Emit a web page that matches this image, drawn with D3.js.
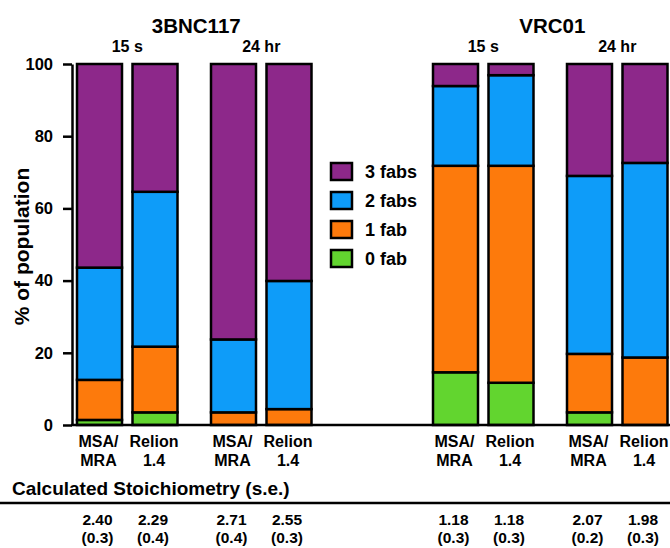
<!DOCTYPE html>
<meta charset="utf-8">
<style>
body { margin: 0; background: #fff; }
svg { font-family: "Liberation Sans", Arial, sans-serif; font-weight: bold; }
.seg { stroke: #000; stroke-width: 2.5px; }
</style>
<svg width="670" height="548"></svg>
<script src="https://cdn.jsdelivr.net/npm/d3@7"></script>
<script>

var antibodies = ["3BNC117", "VRC01"];
var times = ["15 s", "24 hr"];
var methods = ["MSA/MRA", "Relion 1.4"];
var methodLines = { "MSA/MRA": ["MSA/", "MRA"], "Relion 1.4": ["Relion", "1.4"] };

var classes = ["0 fab", "1 fab", "2 fabs", "3 fabs"];
// one value per bar: 3BNC117 15s (MSA, Relion), 3BNC117 24hr, VRC01 15s, VRC01 24hr
var fab0 = [1.4, 3.5, 0, 0, 14.6, 11.7, 3.5, 0];
var fab1 = [11.1, 18.2, 3.5, 4.4, 57.2, 60.1, 16.2, 18.7];
var fab2 = [31.1, 42.9, 20.2, 35.5, 22.1, 25.1, 49.3, 53.9];
var fab3 = [56.4, 35.4, 76.3, 60.1, 6.1, 3.1, 31.0, 27.4];

var stoich = [2.40, 2.29, 2.71, 2.55, 1.18, 1.18, 2.07, 1.98];
var stoichSE = [0.3, 0.4, 0.4, 0.3, 0.3, 0.3, 0.2, 0.3];

var colors = { "0 fab": "#62d52f", "1 fab": "#fd7a0c", "2 fabs": "#0e9cf9", "3 fabs": "#8d288a" };

var svg = d3.select("svg");

// bar list
var bars = [];
antibodies.forEach(function(ab) {
  times.forEach(function(t) {
    methods.forEach(function(m) {
      var i = bars.length;
      bars.push({ ab: ab, time: t, method: m,
        "0 fab": fab0[i], "1 fab": fab1[i], "2 fabs": fab2[i], "3 fabs": fab3[i],
        st: stoich[i], se: stoichSE[i] });
    });
  });
});

var barW = 45;
var xAb = d3.scalePoint().domain(antibodies).range([77, 433]);
var xTime = d3.scalePoint().domain(times).range([0, 134]);
var xMethod = d3.scalePoint().domain(methods).range([0, 55.5]);
function bx(d) { return xAb(d.ab) + xTime(d.time) + xMethod(d.method); }

var y = d3.scaleLinear().domain([0, 100]).range([425, 64]);

var stack = d3.stack().keys(classes);
var series = stack(bars);

svg.append("g").selectAll("g")
  .data(series)
  .enter().append("g")
    .attr("fill", function(s) { return colors[s.key]; })
  .selectAll("rect")
  .data(function(s) { return s.filter(function(p) { return p[1] - p[0] > 0; }); })
  .enter().append("rect")
    .attr("class", "seg")
    .attr("x", function(p) { return bx(p.data); })
    .attr("width", barW)
    .attr("y", function(p) { return y(p[1]); })
    .attr("height", function(p) { return y(p[0]) - y(p[1]); });

// y axis
var yAxis = svg.append("g")
  .attr("transform", "translate(72,0)")
  .call(d3.axisLeft(y).tickValues([0, 20, 40, 60, 80, 100]).tickSize(9).tickPadding(10).tickSizeOuter(0));
yAxis.select(".domain").attr("stroke", "#000").attr("stroke-width", 2.5);
yAxis.selectAll(".tick line").attr("stroke", "#000").attr("stroke-width", 2.5);
yAxis.selectAll(".tick text")
  .attr("font-family", "Liberation Sans, Arial, sans-serif")
  .attr("font-weight", "bold").attr("font-size", 16.5).attr("fill", "#000");

// baseline
svg.append("line")
  .attr("x1", 71).attr("x2", 670)
  .attr("y1", y(0)).attr("y2", y(0))
  .attr("stroke", "#000").attr("stroke-width", 2.5);

svg.append("text")
  .attr("transform", "translate(29," + (y(50) + 2) + ") rotate(-90)")
  .attr("text-anchor", "middle")
  .attr("font-size", 21)
  .text("% of population");

// group headings
antibodies.forEach(function(ab) {
  svg.append("text")
    .attr("x", xAb(ab) + (134 + 55.5 + barW) / 2 + 2)
    .attr("y", 33)
    .attr("text-anchor", "middle")
    .attr("font-size", 20.5)
    .text(ab);
  times.forEach(function(t) {
    svg.append("text")
      .attr("x", xAb(ab) + xTime(t) + (55.5 + barW) / 2)
      .attr("y", 52)
      .attr("text-anchor", "middle")
      .attr("font-size", 16)
      .text(t);
  });
});

// x labels
var xl = svg.append("g").selectAll("text")
  .data(bars)
  .enter().append("text")
    .attr("text-anchor", "middle")
    .attr("font-size", 16);
xl.append("tspan")
  .attr("x", function(d) { return bx(d) + barW / 2 - 1; })
  .attr("y", 447)
  .text(function(d) { return methodLines[d.method][0]; });
xl.append("tspan")
  .attr("x", function(d) { return bx(d) + barW / 2 - 1; })
  .attr("y", 466)
  .text(function(d) { return methodLines[d.method][1]; });

// legend
var legendOrder = ["3 fabs", "2 fabs", "1 fab", "0 fab"];
var lg = svg.append("g").selectAll("g")
  .data(legendOrder)
  .enter().append("g")
    .attr("transform", function(d, i) { return "translate(331," + (163 + i * 29) + ")"; });
lg.append("rect")
  .attr("width", 21).attr("height", 17)
  .attr("fill", function(d) { return colors[d]; })
  .attr("stroke", "#000").attr("stroke-width", 2.5);
lg.append("text")
  .attr("x", 34).attr("y", 15)
  .attr("font-size", 18)
  .text(function(d) { return d; });

// stoichiometry table
svg.append("text")
  .attr("x", 12).attr("y", 495)
  .attr("font-size", 19)
  .text("Calculated Stoichiometry (s.e.)");
svg.append("line")
  .attr("x1", 0).attr("x2", 670)
  .attr("y1", 503).attr("y2", 503)
  .attr("stroke", "#000").attr("stroke-width", 2.5);

var st = svg.append("g").selectAll("text")
  .data(bars)
  .enter().append("text")
    .attr("text-anchor", "middle")
    .attr("font-size", 15.5);
st.append("tspan")
  .attr("x", function(d) { return bx(d) + barW / 2 - 2; })
  .attr("y", 525)
  .text(function(d) { return d.st.toFixed(2); });
st.append("tspan")
  .attr("x", function(d) { return bx(d) + barW / 2 - 2; })
  .attr("y", 543)
  .text(function(d) { return "(" + d.se.toFixed(1) + ")"; });

</script>
